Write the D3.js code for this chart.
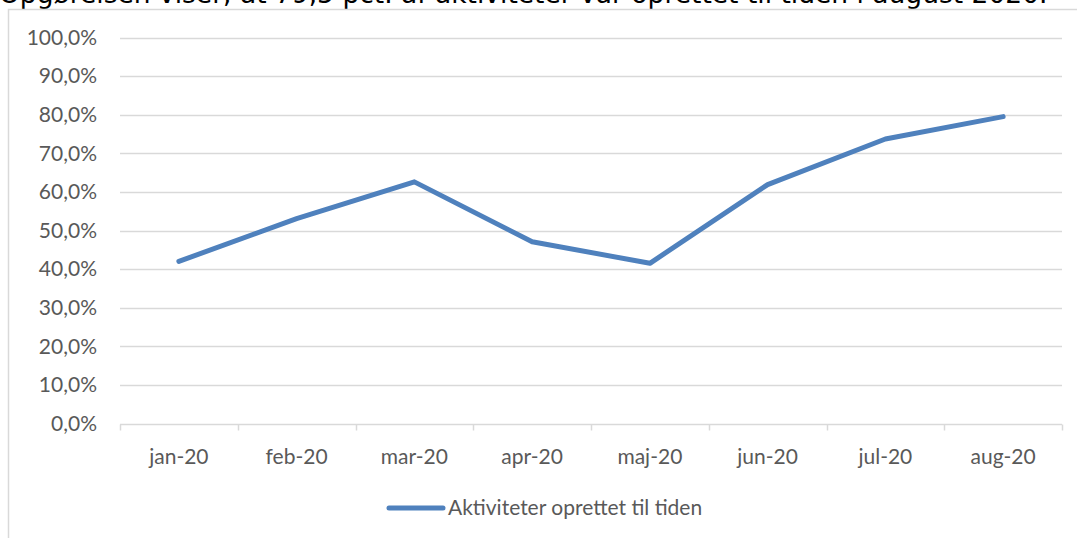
<!DOCTYPE html>
<html>
<head>
<meta charset="utf-8">
<script src="https://cdn.jsdelivr.net/npm/d3@7"></script>
<style>
  body { margin: 0; background: #fff; overflow: hidden; }
  svg { display: block; }
</style>
</head>
<body>
<svg id="chart" width="1077" height="538"></svg>
<script>
// data
const months = ['jan-20', 'feb-20', 'mar-20', 'apr-20', 'maj-20', 'jun-20', 'jul-20', 'aug-20']
const onTime = [42.0, 53.1, 62.6, 47.1, 41.5, 61.9, 73.7, 79.5]
const yTicks = [0, 10, 20, 30, 40, 50, 60, 70, 80, 90, 100]
const seriesName = 'Aktiviteter oprettet til tiden'
const caption = 'Opgørelsen viser, at 79,5 pct. af aktiviteter var oprettet til tiden i august 2020.'

const svg = d3.select('#chart')
const font = 'Lato, "Open Sans", sans-serif'
const textCol = '#595959'
const gridCol = '#d9d9d9'
const lineCol = '#4f81bd'

// caption of the page, cut by the top edge
svg.append('text')
  .attr('x', -1)
  .attr('y', 3)
  .attr('font-family', '"DejaVu Sans", Verdana, sans-serif')
  .attr('font-size', 26.5)
  .attr('fill', '#000')
  .text(caption)

// chart frame
svg.append('rect')
  .attr('x', 8.5).attr('y', 9.5)
  .attr('width', 1100).attr('height', 600)
  .attr('fill', '#fff')
  .attr('stroke', gridCol)
  .attr('stroke-width', 1.5)

const plot = { left: 120, right: 1062, top: 37.5, bottom: 423.5 }

const x = d3.scaleBand().domain(months).range([plot.left, plot.right])
const y = d3.scaleLinear().domain([0, 100]).range([plot.bottom, plot.top])

// gridlines
svg.append('g')
  .selectAll('line')
  .data(yTicks.filter(d => d > 0))
  .enter().append('line')
  .attr('x1', plot.left).attr('x2', plot.right)
  .attr('y1', d => Math.round(y(d)) + 0.5).attr('y2', d => Math.round(y(d)) + 0.5)
  .attr('stroke', gridCol)
  .attr('stroke-width', 1.5)

// y labels
svg.append('g')
  .selectAll('text')
  .data(yTicks)
  .enter().append('text')
  .attr('x', 97)
  .attr('y', d => y(d))
  .attr('dy', '.35em')
  .attr('text-anchor', 'end')
  .attr('font-family', font)
  .attr('font-size', 21)
  .attr('fill', textCol)
  .text(d => d3.format('.1f')(d).replace('.', ',') + '%')

// x axis
const xAxis = svg.append('g')
  .attr('transform', 'translate(0,' + (Math.round(plot.bottom) + 0.5) + ')')
xAxis.append('line')
  .attr('x1', plot.left).attr('x2', plot.right)
  .attr('stroke', gridCol).attr('stroke-width', 1.5)
xAxis.selectAll('.tick')
  .data(months.map(m => x(m)).concat([plot.right]))
  .enter().append('line')
  .attr('x1', d => Math.round(d) + 0.5).attr('x2', d => Math.round(d) + 0.5)
  .attr('y1', 0).attr('y2', 6)
  .attr('stroke', gridCol).attr('stroke-width', 1.5)
xAxis.selectAll('text')
  .data(months)
  .enter().append('text')
  .attr('x', d => x(d) + x.bandwidth() / 2)
  .attr('y', 39)
  .attr('text-anchor', 'middle')
  .attr('font-family', font)
  .attr('font-size', 21)
  .attr('fill', textCol)
  .text(d => d)

// series line
const line = d3.line()
  .x((d, i) => x(months[i]) + x.bandwidth() / 2)
  .y(d => y(d))

svg.append('path')
  .datum(onTime)
  .attr('d', line)
  .attr('fill', 'none')
  .attr('stroke', lineCol)
  .attr('stroke-width', 5)
  .attr('stroke-linecap', 'round')
  .attr('stroke-linejoin', 'round')

// legend
const legend = svg.append('g').attr('transform', 'translate(389,508)')
legend.append('line')
  .attr('x1', 0).attr('x2', 54)
  .attr('stroke', lineCol)
  .attr('stroke-width', 5)
  .attr('stroke-linecap', 'round')
legend.append('text')
  .attr('x', 59)
  .attr('y', 0)
  .attr('dy', '.35em')
  .attr('font-family', font)
  .attr('font-size', 21)
  .attr('fill', textCol)
  .text(seriesName)
</script>
</body>
</html>
